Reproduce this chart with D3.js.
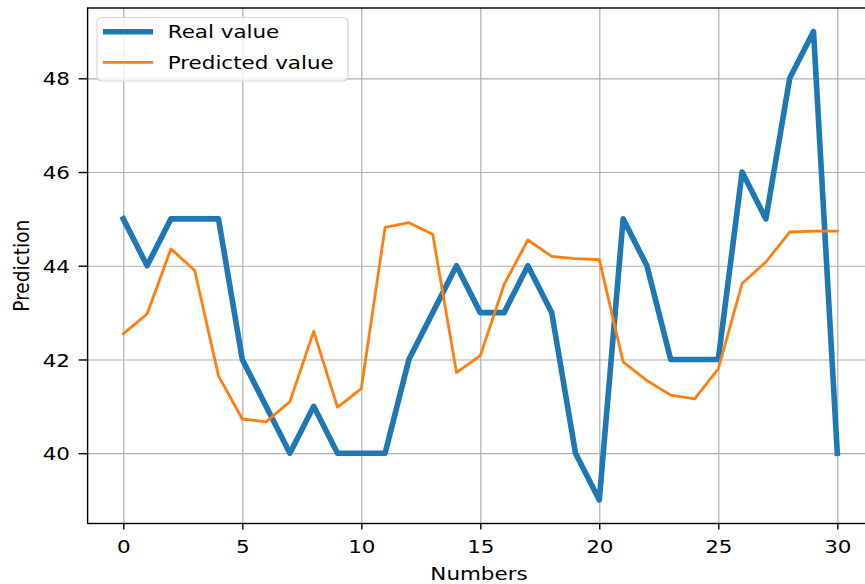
<!DOCTYPE html>
<html lang="en">
<head>
<meta charset="UTF-8">
<title>Prediction</title>
<style>
  body { margin: 0; background: #fff; }
  svg text { font-family: "DejaVu Sans", sans-serif; fill: #000; }
</style>
</head>
<body>
<script src="https://d3js.org/d3.v7.min.js"></script>
<div id="chart"></div>
<script>
// data
var numbers = d3.range(0, 31);
var realValue = [45, 44, 45, 45, 45, 42, 41, 40, 41, 40, 40, 40, 42, 43, 44, 43, 43, 44, 43, 40,
                 39, 45, 44, 42, 42, 42, 46, 45, 48, 49, 40];
var predictedValue = [42.55, 42.97, 44.36, 43.9, 41.65, 40.73, 40.67, 41.1, 42.6, 40.98, 41.38,
                      44.82, 44.92, 44.67, 41.72, 42.08, 43.6, 44.55, 44.2, 44.15, 44.13, 41.95,
                      41.55, 41.24, 41.16, 41.8, 43.62, 44.08, 44.72, 44.74, 44.74];
var xTicks = [0, 5, 10, 15, 20, 25, 30];
var yTicks = [40, 42, 44, 46, 48];
var seriesNames = ["Real value", "Predicted value"];

var width = 865, height = 584;
// plot area in pixels (right spine falls just outside the picture)
var plot = {x0: 87.6, x1: 873, y0: 8, y1: 523.5};
var sx = 1.16; // text in the picture is a bit wider than tall
var fontSize = 18.5;

var svg = d3.select("#chart").append("svg")
  .attr("width", width)
  .attr("height", height)
  .style("font-size", fontSize + "px");

var x = d3.scaleLinear().domain([-1.5, 31.5]).range([plot.x0, plot.x1]);
var y = d3.scaleLinear().domain([38.5, 49.5]).range([plot.y1, plot.y0]);

// grid
svg.append("g")
  .attr("transform", "translate(0," + plot.y1 + ")")
  .call(d3.axisBottom(x).tickValues(xTicks).tickSize(-(plot.y1 - plot.y0)).tickFormat(""))
  .call(function(g) { g.select(".domain").remove(); })
  .selectAll("line").attr("stroke", "#b0b0b0").attr("stroke-width", 1.2);
svg.append("g")
  .attr("transform", "translate(" + plot.x0 + ",0)")
  .call(d3.axisLeft(y).tickValues(yTicks).tickSize(-(plot.x1 - plot.x0)).tickFormat(""))
  .call(function(g) { g.select(".domain").remove(); })
  .selectAll("line").attr("stroke", "#b0b0b0").attr("stroke-width", 1.2);

// lines
var line = function(vals) {
  return d3.line().x(function(d, i) { return x(numbers[i]); }).y(function(d) { return y(d); })(vals);
};
svg.append("path")
  .attr("d", line(realValue))
  .attr("fill", "none")
  .attr("stroke", "#1f77b4")
  .attr("stroke-width", 5.6)
  .attr("stroke-linejoin", "round")
  .attr("stroke-linecap", "square");
svg.append("path")
  .attr("d", line(predictedValue))
  .attr("fill", "none")
  .attr("stroke", "#ff7f0e")
  .attr("stroke-width", 2.8)
  .attr("stroke-linejoin", "round")
  .attr("stroke-linecap", "square");

// spines
svg.append("rect")
  .attr("x", plot.x0).attr("y", plot.y0)
  .attr("width", plot.x1 - plot.x0).attr("height", plot.y1 - plot.y0)
  .attr("fill", "none").attr("stroke", "#000").attr("stroke-width", 1.4);

// axes
var xAxis = svg.append("g")
  .attr("transform", "translate(0," + plot.y1 + ")")
  .call(d3.axisBottom(x).tickValues(xTicks).tickSize(6));
xAxis.select(".domain").remove();
xAxis.selectAll("line").attr("stroke", "#000").attr("stroke-width", 1.4);
xAxis.selectAll("text")
  .attr("y", 22.5).attr("dy", "0.36em")
  .attr("transform", "scale(" + sx + ",1)")
  .style("font-size", fontSize + "px").style("font-family", "DejaVu Sans");

var yAxis = svg.append("g")
  .attr("transform", "translate(" + plot.x0 + ",0)")
  .call(d3.axisLeft(y).tickValues(yTicks).tickSize(9));
yAxis.select(".domain").remove();
yAxis.selectAll("line").attr("stroke", "#000").attr("stroke-width", 1.4);
yAxis.selectAll("text")
  .attr("x", -15.2).attr("dy", "0.36em")
  .attr("transform", "scale(" + sx + ",1)")
  .style("font-size", fontSize + "px").style("font-family", "DejaVu Sans");

// axis labels
svg.append("text")
  .attr("text-anchor", "middle")
  .attr("dy", "0.36em")
  .attr("transform", "translate(479,573) scale(" + sx + ",1)")
  .text("Numbers");
svg.append("text")
  .attr("text-anchor", "middle")
  .attr("dy", "0.36em")
  .attr("transform", "translate(21," + ((plot.y0 + plot.y1) / 2) + ") scale(" + sx + ",1) rotate(-90)")
  .text("Prediction");

// legend
var legend = svg.append("g");
legend.append("rect")
  .attr("x", 97).attr("y", 17.5)
  .attr("width", 251).attr("height", 63.5)
  .attr("rx", 5)
  .attr("fill", "#fff").attr("fill-opacity", 0.8)
  .attr("stroke", "#d6d6d6").attr("stroke-width", 1.2);
var colors = ["#1f77b4", "#ff7f0e"];
var widths = [5.6, 2.8];
var rowY = [31.7, 62.3];
seriesNames.forEach(function(name, i) {
  legend.append("line")
    .attr("x1", 103).attr("x2", 153)
    .attr("y1", rowY[i]).attr("y2", rowY[i])
    .attr("stroke", colors[i]).attr("stroke-width", widths[i]);
  legend.append("text")
    .attr("dy", "0.36em")
    .attr("transform", "translate(167.7," + rowY[i] + ") scale(" + sx + ",1)")
    .text(name);
});
</script>
</body>
</html>
